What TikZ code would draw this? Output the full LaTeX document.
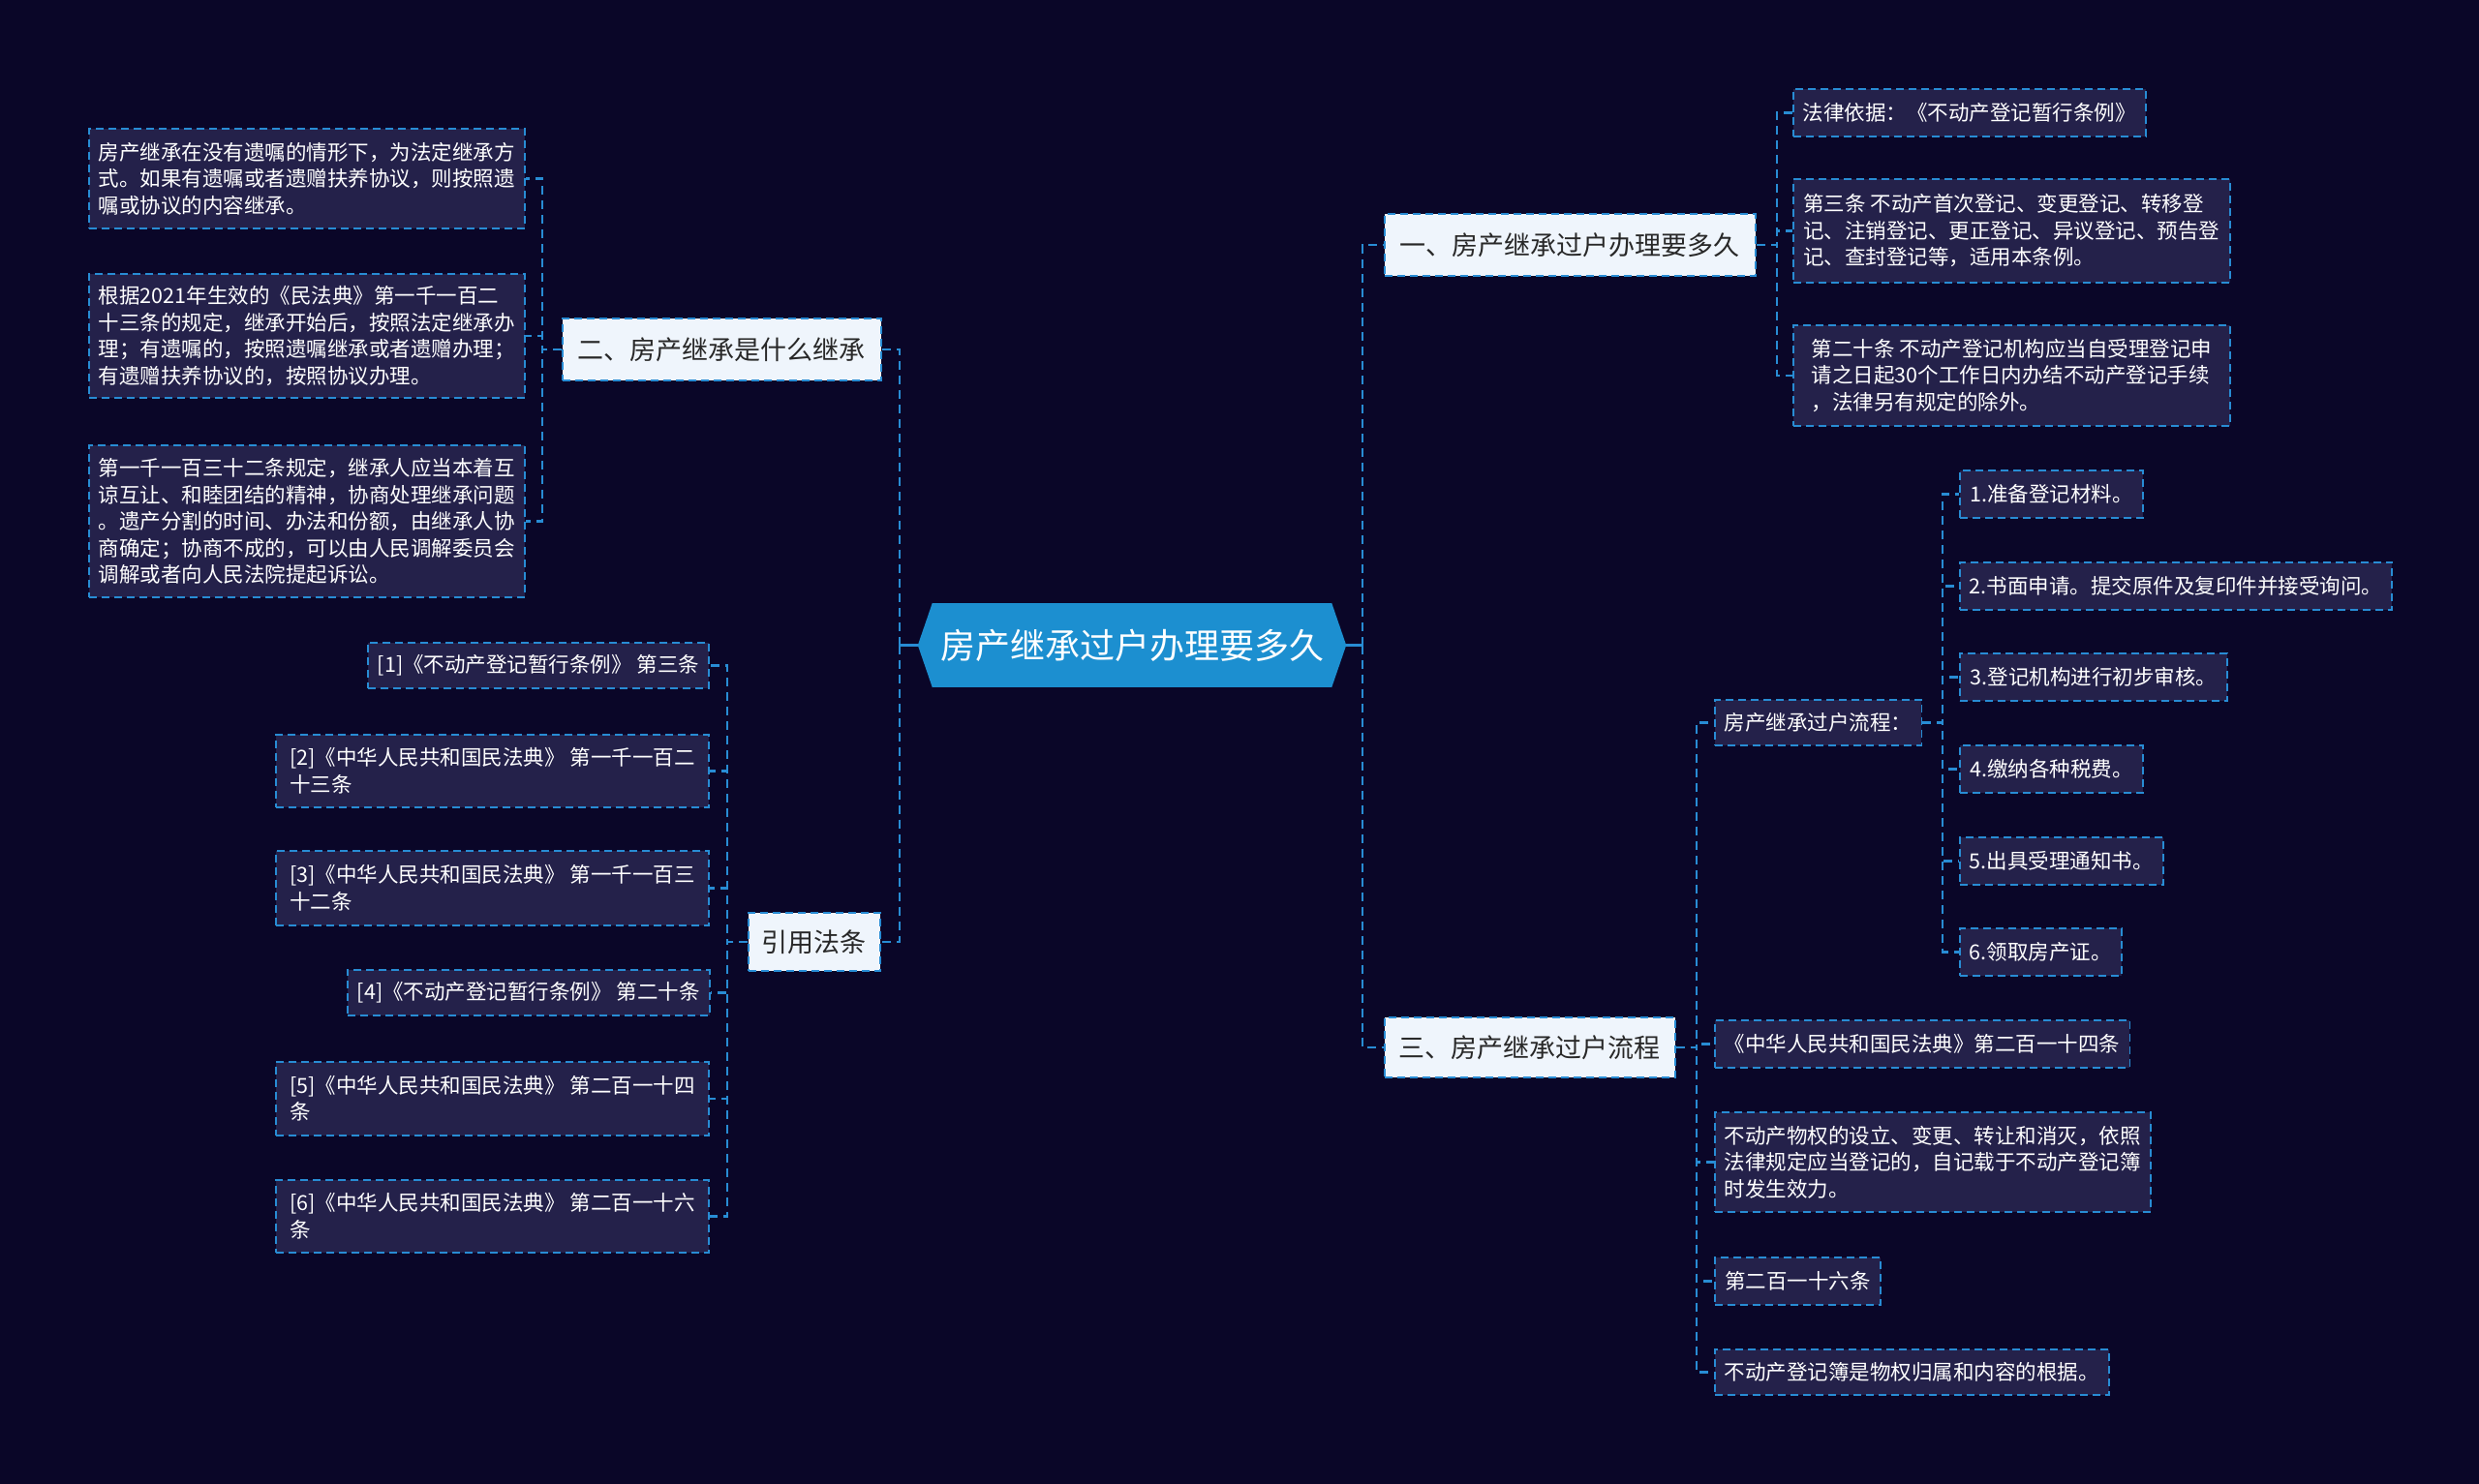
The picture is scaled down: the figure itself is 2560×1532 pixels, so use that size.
\documentclass[tikz,border=0pt]{standalone}
\usepackage{fontspec}
\setmainfont{Noto Sans CJK SC}
\usetikzlibrary{calc}
\definecolor{bgc}{RGB}{10,6,40}
\definecolor{leaffill}{RGB}{36,33,74}
\definecolor{lblue}{RGB}{40,140,212}
\definecolor{rootblue}{RGB}{28,143,208}
\definecolor{l1fill}{RGB}{239,245,252}
\definecolor{l1text}{RGB}{40,40,40}
\begin{document}
\begin{tikzpicture}[x=1pt,y=-1pt,
  conn/.style={draw=lblue,line width=2.2pt,dash pattern=on 9pt off 6pt},
  rootline/.style={draw=lblue,line width=3pt},
  leaf/.style={anchor=north west,fill=leaffill,draw=lblue,line width=1.8pt,dash pattern=on 8pt off 5pt,
    text=white,align=left,inner xsep=10pt,inner ysep=5pt,font=\fontsize{21.5pt}{27.5pt}\selectfont},
  lvone/.style={anchor=north west,fill=l1fill,draw=lblue,line width=1.8pt,dash pattern=on 8pt off 5pt,
    text=l1text,align=center,inner sep=6pt,font=\fontsize{27pt}{32pt}\selectfont},
]
\useasboundingbox (0,0) rectangle (2560,1532);
\fill[bgc] (-20,-20) rectangle (2580,1552);

% root
\node[fill=rootblue,text=white,minimum width=412pt,minimum height=87pt,inner sep=0pt,
  font=\fontsize{36pt}{40pt}\selectfont] (root) at (1169,666.5) {房产继承过户办理要多久};
\fill[rootblue] (root.north west) -- ($(root.west)+(-15,0)$) -- (root.south west) -- cycle;
\fill[rootblue] (root.north east) -- ($(root.east)+(15,0)$) -- (root.south east) -- cycle;
\coordinate (rl) at (929,666.5);
\coordinate (rr) at (1407,666.5);
\draw[rootline] ($(root.west)+(-15,0)$) -- (rl);
\draw[rootline] ($(root.east)+(15,0)$) -- (rr);

% level one
\node[lvone,minimum width=329pt,minimum height=64pt] (n2) at (580,328) {二、房产继承是什么继承};
\node[lvone,minimum width=136pt,minimum height=60pt] (cite) at (772,942) {引用法条};
\node[lvone,minimum width=383pt,minimum height=64pt] (n1) at (1429,220) {一、房产继承过户办理要多久};
\node[lvone,minimum width=300pt,minimum height=62pt] (n3) at (1429,1050) {三、房产继承过户流程};

% left leaves
\node[leaf,minimum width=448pt,minimum height=103pt] (a1) at (91,132) {房产继承在没有遗嘱的情形下，为法定继承方\\式。如果有遗嘱或者遗赠扶养协议，则按照遗\\嘱或协议的内容继承。};
\node[leaf,minimum width=448pt,minimum height=128pt] (a2) at (91,282) {根据2021年生效的《民法典》第一千一百二\\十三条的规定，继承开始后，按照法定继承办\\理；有遗嘱的，按照遗嘱继承或者遗赠办理；\\有遗赠扶养协议的，按照协议办理。};
\node[leaf,minimum width=448pt,minimum height=157pt] (a3) at (91,459) {第一千一百三十二条规定，继承人应当本着互\\谅互让、和睦团结的精神，协商处理继承问题\\。遗产分割的时间、办法和份额，由继承人协\\商确定；协商不成的，可以由人民调解委员会\\调解或者向人民法院提起诉讼。};

\node[leaf,minimum width=352pt,minimum height=47pt] (r1) at (379,663) {[1]《不动产登记暂行条例》 第三条};
\node[leaf,minimum width=447pt,minimum height=75pt] (r2) at (284,758) {[2]《中华人民共和国民法典》 第一千一百二\\十三条};
\node[leaf,minimum width=447pt,minimum height=77pt] (r3) at (284,878) {[3]《中华人民共和国民法典》 第一千一百三\\十二条};
\node[leaf,minimum width=373pt,minimum height=47pt] (r4) at (358,1001) {[4]《不动产登记暂行条例》 第二十条};
\node[leaf,minimum width=447pt,minimum height=76pt] (r5) at (284,1096) {[5]《中华人民共和国民法典》 第二百一十四\\条};
\node[leaf,minimum width=447pt,minimum height=75pt] (r6) at (284,1218) {[6]《中华人民共和国民法典》 第二百一十六\\条};

% right leaves
\node[leaf,minimum width=363pt,minimum height=49pt] (b1) at (1851,91) {法律依据：《不动产登记暂行条例》};
\node[leaf,minimum width=451pt,minimum height=107pt] (b2) at (1851,184) {第三条 不动产首次登记、变更登记、转移登\\记、注销登记、更正登记、异议登记、预告登\\记、查封登记等，适用本条例。};
\node[leaf,minimum width=451pt,minimum height=104pt] (b3) at (1851,335) {第二十条 不动产登记机构应当自受理登记申\\请之日起30个工作日内办结不动产登记手续\\，法律另有规定的除外。};

\node[leaf,minimum width=212pt,minimum height=47pt] (flow) at (1770,722) {房产继承过户流程：};
\node[leaf,minimum width=189pt,minimum height=49pt] (s1) at (2023,485) {1.准备登记材料。};
\node[leaf,minimum width=444pt,minimum height=49pt] (s2) at (2023,580) {2.书面申请。提交原件及复印件并接受询问。};
\node[leaf,minimum width=276pt,minimum height=49pt] (s3) at (2023,674) {3.登记机构进行初步审核。};
\node[leaf,minimum width=189pt,minimum height=49pt] (s4) at (2023,769) {4.缴纳各种税费。};
\node[leaf,minimum width=209pt,minimum height=49pt] (s5) at (2023,864) {5.出具受理通知书。};
\node[leaf,minimum width=166pt,minimum height=49pt] (s6) at (2023,958) {6.领取房产证。};

\node[leaf,minimum width=428pt,minimum height=49pt] (c1) at (1770,1053) {《中华人民共和国民法典》第二百一十四条};
\node[leaf,minimum width=449pt,minimum height=103pt] (c2) at (1770,1148) {不动产物权的设立、变更、转让和消灭，依照\\法律规定应当登记的，自记载于不动产登记簿\\时发生效力。};
\node[leaf,minimum width=171pt,minimum height=49pt] (c3) at (1770,1298) {第二百一十六条};
\node[leaf,minimum width=406pt,minimum height=47pt] (c4) at (1770,1393) {不动产登记簿是物权归属和内容的根据。};

% connectors
\foreach \c in {n2,cite} \draw[conn] (rl) |- (\c.east);
\foreach \c in {n1,n3} \draw[conn] (rr) |- (\c.west);
\foreach \c in {a1,a2,a3} \draw[conn] (n2.west) -- ++(-20,0) |- (\c.east);
\foreach \c in {r1,r2,r3,r4,r5,r6} \draw[conn] (cite.west) -- ++(-21,0) |- (\c.east);
\foreach \c in {b1,b2,b3} \draw[conn] (n1.east) -- ++(21,0) |- (\c.west);
\foreach \c in {flow,c1,c2,c3,c4} \draw[conn] (n3.east) -- ++(21,0) |- (\c.west);
\foreach \c in {s1,s2,s3,s4,s5,s6} \draw[conn] (flow.east) -- ++(21,0) |- (\c.west);
\end{tikzpicture}
\end{document}
